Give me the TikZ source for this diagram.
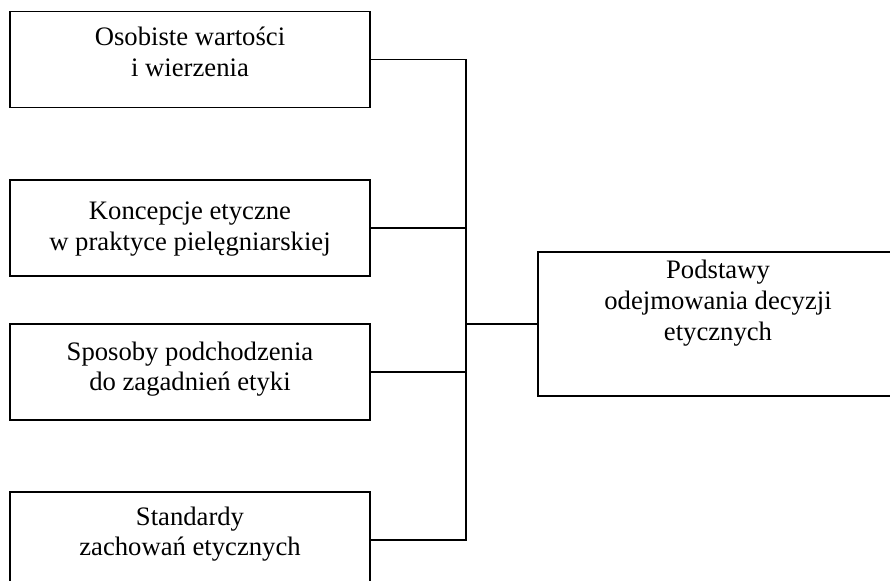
\documentclass[tikz,border=0pt]{standalone}
\usepackage{fontspec}
\setmainfont{Liberation Serif}
\usepackage{tikz}

\tikzset{
  box/.style={draw, line width=1pt, minimum width=270pt, minimum height=72pt, inner sep=0pt},
  bigbox/.style={box, minimum height=108pt},
  txt/.style={align=center, inner sep=0pt, font=\fontsize{20}{23}\selectfont},
  link/.style={line width=1pt}
}

\begin{document}
\begin{tikzpicture}[x=0.75pt,y=0.75pt,yscale=-1,xscale=1]
\clip (0,0) rectangle (890,581);

%Boxes
\node [box] (osob) at (190,59.5) {};
\node [box] (konc) at (190,228) {};
\node [box] (spos) at (190,372) {};
\node [box] (stan) at (190,540) {};
\node [bigbox] (podst) at (718,324) {};
\coordinate (jn) at (466,324);

% Text Node
\node [txt] (tosob) at (190,52) {Osobiste wartości\\i wierzenia};
% Text Node
\node [txt] (tkonc) at (190,229) {Koncepcje etyczne\\w praktyce pielęgniarskiej};
% Text Node
\node [txt] (tspos) at (190,369) {Sposoby podchodzenia\\do zagadnień etyki};
% Text Node
\node [txt] (tstan) at (190,534) {Standardy\\zachowań etycznych};
% Text Node
\node [txt] (tpodst) at (718,303) {Podstawy\\odejmowania decyzji\\etycznych};

%Connectors
\draw [link] (osob.east) -| (jn);
\draw [link] (stan.east) -| (jn);
\draw [link] (konc.east) -- (konc.east -| jn);
\draw [link] (spos.east) -- (spos.east -| jn);
\draw [link] (jn) -- (podst.west);

\end{tikzpicture}
\end{document}
